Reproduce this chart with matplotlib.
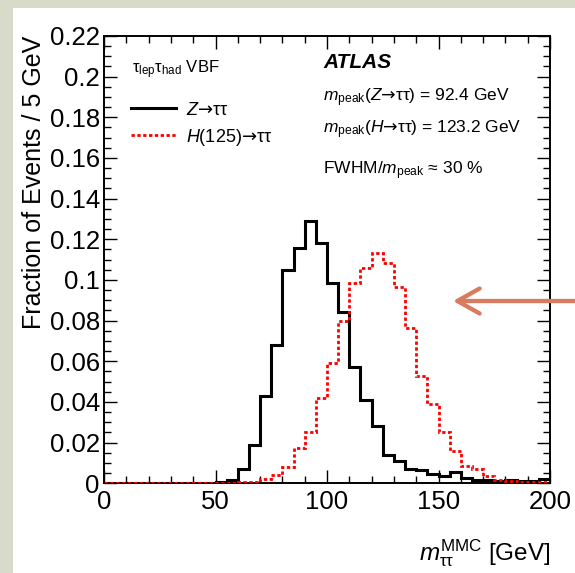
import matplotlib

matplotlib.use("Agg")
import matplotlib.pyplot as plt
import numpy as np
from matplotlib.lines import Line2D
from matplotlib.patches import Rectangle
from matplotlib.ticker import FuncFormatter, MultipleLocator

# Bin edges (5 GeV bins from 0 to 200 GeV)
bin_edges = np.arange(0, 205, 5)

# Z -> tautau, fraction of events per bin
z_fraction = [
    0, 0, 0, 0, 0, 0, 0, 0, 0, 0,
    0.0007, 0.0015, 0.0069, 0.0188, 0.0427, 0.0680, 0.1050, 0.1156, 0.1290, 0.1180,
    0.0987, 0.0844, 0.0570, 0.0409, 0.0281, 0.0138, 0.0111, 0.0070, 0.0065, 0.0044,
    0.0035, 0.0056, 0.0026, 0.0014, 0.0018, 0.0009, 0.0017, 0.0013, 0.0011, 0.0020,
]

# H(125) -> tautau, fraction of events per bin
h_fraction = [
    0, 0, 0, 0, 0, 0, 0, 0, 0, 0,
    0.0001, 0.0003, 0.0005, 0.0007, 0.0021, 0.0043, 0.0080, 0.0174, 0.0252, 0.0418,
    0.0593, 0.0800, 0.0984, 0.1057, 0.1134, 0.1085, 0.0964, 0.0762, 0.0528, 0.0390,
    0.0251, 0.0159, 0.0085, 0.0071, 0.0036, 0.0016, 0.0013, 0.0007, 0.0005, 0.0005,
]

# long arrow taken from DejaVu Sans (mathtext sf font)
ARROW = r"$\mathsf{→}$"
legend_labels = ["$Z$" + ARROW + "ττ", "$H$(125)" + ARROW + "ττ"]

# Fonts
plt.rcParams["font.family"] = ["Liberation Sans", "DejaVu Sans"]
plt.rcParams["mathtext.fontset"] = "custom"
plt.rcParams["mathtext.rm"] = "Liberation Sans"
plt.rcParams["mathtext.it"] = "Liberation Sans:italic"
plt.rcParams["mathtext.bf"] = "Liberation Sans:bold"
plt.rcParams["mathtext.sf"] = "DejaVu Sans"

W, H = 575, 573
fig = plt.figure(figsize=(W / 100, H / 100), dpi=100, facecolor="#d8dbca")

# White slide area
fig.add_artist(
    Rectangle((13 / W, 0), 1, 1 - 8 / H, transform=fig.transFigure,
              facecolor="white", edgecolor="none", zorder=0)
)

ax = fig.add_axes([104 / W, 1 - 483.3 / H, 446 / W, 447.3 / H])

# Histograms
ax.stairs(z_fraction, bin_edges, color="black", linewidth=2.2, zorder=3)
ax.stairs(h_fraction, bin_edges, color="#ff0000", linewidth=2.0,
          linestyle=(0, (1.2, 0.9)), zorder=4)

ax.set_xlim(0, 200)
ax.set_ylim(0, 0.22)

# ROOT-style ticks
ax.xaxis.set_major_locator(MultipleLocator(50))
ax.xaxis.set_minor_locator(MultipleLocator(10))
ax.yaxis.set_major_locator(MultipleLocator(0.02))
ax.yaxis.set_minor_locator(MultipleLocator(0.005))
ax.yaxis.set_major_formatter(FuncFormatter(lambda v, p: f"{v:g}"))
ax.xaxis.set_major_formatter(FuncFormatter(lambda v, p: f"{v:g}"))
ax.tick_params(which="both", direction="in", top=True, right=True, width=1.0)
ax.tick_params(which="major", length=9.5)
ax.tick_params(which="minor", length=5)
ax.tick_params(axis="y", which="major", labelsize=18.5, pad=3)
ax.tick_params(axis="x", which="major", labelsize=18.5, pad=5)
for spine in ax.spines.values():
    spine.set_linewidth(1.4)

# Axis labels
ax.set_ylabel("Fraction of Events / 5 GeV", fontsize=18, loc="top")
ax.yaxis.set_label_coords(-0.13, 1.0)
ax.set_xlabel(r"$m_{\mathrm{ττ}}^{\mathrm{MMC}}$ [GeV]", fontsize=17.5, loc="right")
ax.xaxis.label.set_va("baseline")
ax.xaxis.set_label_coords(1.0, -0.172)

# Legend
handles = [
    Line2D([], [], color="black", linewidth=2.2),
    Line2D([], [], color="#ff0000", linewidth=2.0, linestyle=(0, (1.2, 0.9))),
]
ax.legend(handles, legend_labels, loc="center left", bbox_to_anchor=(0.0605, 0.802),
          frameon=False, fontsize=13, handlelength=2.5, handletextpad=0.55,
          labelspacing=0.45, borderpad=0, borderaxespad=0)

# Annotations
ax.text(0.062, 0.917, r"$\mathrm{τ_{lep}τ_{had}}$ VBF", transform=ax.transAxes,
        fontsize=12, va="baseline")
ax.text(0.491, 0.929, "ATLAS", transform=ax.transAxes, fontsize=15,
        fontweight="bold", fontstyle="italic", va="baseline")
ax.text(0.491, 0.855, "$m_{\\mathrm{peak}}$($Z$" + ARROW + "ττ) = 92.4 GeV",
        transform=ax.transAxes, fontsize=12.5, va="baseline")
ax.text(0.491, 0.783, "$m_{\\mathrm{peak}}$($H$" + ARROW + "ττ) = 123.2 GeV",
        transform=ax.transAxes, fontsize=12.5, va="baseline")
ax.text(0.491, 0.690, "FWHM/$m_{\\mathrm{peak}}$ ≈ 30 %",
        transform=ax.transAxes, fontsize=12.5, va="baseline")

# Slide arrow pointing at the plot
ax.annotate("", xy=(453 / W, 1 - 301 / H), xytext=(1.01, 1 - 301 / H),
            xycoords="figure fraction", textcoords="figure fraction",
            arrowprops=dict(arrowstyle="->,head_length=0.8,head_width=0.45",
                            mutation_scale=20, color="#d87b5f", linewidth=3.1,
                            shrinkA=0, shrinkB=0, capstyle="round"),
            annotation_clip=False)

fig.savefig("out.png", dpi=100, facecolor=fig.get_facecolor())
plt.close(fig)
